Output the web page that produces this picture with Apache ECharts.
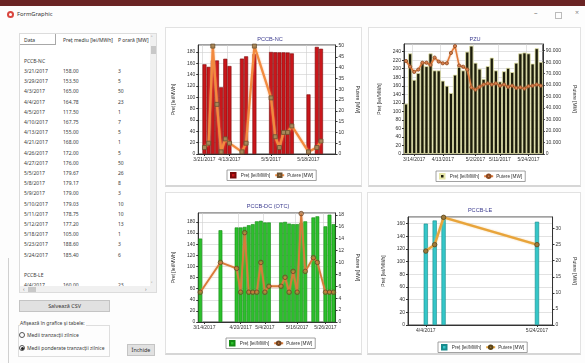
<!DOCTYPE html>
<html><head><meta charset="utf-8">
<script src="https://cdn.jsdelivr.net/npm/echarts@6/dist/echarts.min.js"></script>
<style>
body{margin:0;width:585px;height:363px;overflow:hidden;background:#fdfdfd;font-family:'Noto Sans','DejaVu Sans',sans-serif;position:relative;color:#333}
.a{position:absolute}
.panel{position:absolute;background:#fff;border:1px solid #e2e2e2;border-bottom:2px solid #d6d6d6;box-sizing:border-box}
.ch{position:absolute}
.t{position:absolute;font-size:5px;line-height:10px;white-space:nowrap;color:#3a3a3a}
.btn{position:absolute;background:#e1e1e1;border:1px solid #c4c4c4;box-sizing:border-box;font-size:5.4px;text-align:center;color:#333}
</style></head><body>
<div class="a" style="left:0;top:0;width:585px;height:6px;background:#6a2424"></div>
<div class="a" style="left:7px;top:11px;width:7px;height:7px;border-radius:50%;background:#d9463f"></div>
<div class="a" style="left:9px;top:13px;width:3px;height:3px;border-radius:50%;background:#fff"></div>
<div class="t" style="left:17px;top:9px;font-size:5.8px;color:#333">FormGraphic</div>
<div class="t" style="left:534px;top:8px;font-size:7px;color:#777">–</div>
<div class="a" style="left:555px;top:12px;width:5px;height:5px;border:1px solid #bbb"></div>
<div class="t" style="left:575px;top:8px;font-size:7px;color:#888">×</div>

<div class="panel" style="left:165px;top:27px;width:197px;height:160px"></div>
<div class="panel" style="left:368px;top:27px;width:213px;height:160px"></div>
<div class="panel" style="left:165px;top:192px;width:197px;height:163px"></div>
<div class="panel" style="left:367px;top:192px;width:214px;height:163px"></div>

<div id="tbl" class="a" style="left:19px;top:33px;width:138px;height:260px;border:1px solid #dcdcdc;box-sizing:border-box;background:#fff;overflow:hidden"></div>

<div class="btn" style="left:19px;top:300px;width:91px;height:12px;line-height:10px">Salvează CSV</div>
<div class="a" style="left:18px;top:325px;width:92px;height:32px;border:1px solid #dedede;box-sizing:border-box"></div>
<div class="t" style="left:20px;top:318px;background:#fdfdfd;padding-right:1px">Afișează în grafice și tabele:</div>
<div class="a" style="left:19px;top:332px;width:6px;height:6px;border-radius:50%;border:1px solid #555;box-sizing:border-box;background:#fff"></div>
<div class="t" style="left:27px;top:330px">Medii tranzacții zilnice</div>
<div class="a" style="left:19px;top:345px;width:6px;height:6px;border-radius:50%;border:1px solid #555;box-sizing:border-box;background:#fff"></div>
<div class="a" style="left:20.5px;top:346.5px;width:3px;height:3px;border-radius:50%;background:#222"></div>
<div class="t" style="left:27px;top:343px">Medii ponderate tranzacții zilnice</div>
<div class="btn" style="left:127px;top:344px;width:28px;height:12px;line-height:10px">Închide</div>
<div class="a" style="left:8px;top:258px;width:1px;height:105px;background:#d0d0d0"></div>

<div id="c1" class="ch" style="left:163px;top:27px;width:205px;height:158px"></div>
<div id="c2" class="ch" style="left:368px;top:27px;width:217px;height:158px"></div>
<div id="c3" class="ch" style="left:163px;top:192px;width:205px;height:166px"></div>
<div id="c4" class="ch" style="left:368px;top:192px;width:217px;height:166px"></div>

<script>
// ---------------- DATA ----------------
const priceName = 'Preț [lei/MWh]';
const powerName = 'Putere [MW]';
const tableHeader = ['Data', 'Preț mediu [lei/MWh]', 'P orară [MW]'];

// PCCB-NC ('' = empty slot on the category axis)
const ncDates = ['', '3/21/2017','3/29/2017','4/3/2017','4/4/2017','4/5/2017','4/10/2017','4/13/2017','','',
  '4/21/2017','4/26/2017','','4/27/2017','','','','5/5/2017','5/8/2017','5/9/2017','5/10/2017','5/11/2017','5/12/2017',
  '','','','5/18/2017','','5/23/2017','5/24/2017','','',''];
const ncPrice = [null,158,153.5,165,164.78,117.5,167.75,155,null,null,168,172,null,176,null,null,null,
  179.67,179.17,179,179.03,178.75,177.2,null,null,null,105,null,188.6,185.4,null,null,null];
const ncPower = [null,3,5,50,23,1,7,5,null,null,1,5,null,50,null,null,null,
  26,8,3,10,10,13,null,null,null,1,null,3,6,null,null,null];
const ncTicks = ['3/21/2017','4/13/2017','5/5/2017','5/18/2017'];

// PZU
const pzuDates = ['','','3/14/2017','','','','','','','4/13/2017','','','','','','','','5/2/2017','','','','','','5/11/2017',
  '','','','','','','5/24/2017','','',''];
const pzuPrice = [118,236,174,190,214,206,236,196,196,172,160,143,186,204,196,240,254,214,200,176,206,226,196,170,194,202,192,214,236,238,236,212,248,216];
const pzuPower = [81000,76000,71500,73500,79500,79500,77500,84000,80500,79000,79000,88000,94000,77000,76000,73500,
  58000,56000,58500,60500,61500,60500,61500,59500,60500,58500,59500,57500,58000,57000,59000,59500,60500,59500];
const pzuTicks = ['3/14/2017','4/13/2017','5/2/2017','5/11/2017','5/24/2017'];

// PCCB-DC (OTC)
const dcDates = ['','3/14/2017','','','','','','','','','4/20/2017','','','','','','5/4/2017','','','','','','','',
  '5/16/2017','','','','','','','5/26/2017','',''];
const dcPrice = [150,null,null,null,null,165,null,null,null,170,170,171,174,176,181,182,179,179,null,null,
  179,180,177,176,176,178,181,null,188,190,null,172,193,176];
const dcPower = [5,null,null,null,null,10,null,null,null,9,5,15,5,5,5,10,5,6,null,null,
  6,7.5,5,8.5,5,18.2,8.5,null,10.8,10,null,5,5,5];
const dcTicks = ['3/14/2017','4/20/2017','5/4/2017','5/16/2017','5/26/2017'];

// PCCB-LE (dates on a continuous axis)
const leDates = ['2017-04-04','2017-04-08','2017-04-12','2017-05-24'];
const lePrice = [160,165,170,163];
const lePower = [23,25,33.5,25];
const leTicks = ['2017-04-04','2017-05-24'];
const leRange = ['2017-03-27','2017-05-31'];

// ---------------- TABLE ----------------
function isoToUs(s){const p=s.split('-');return (+p[1])+'/'+(+p[2])+'/'+p[0];}
(function(){
  const tbl=document.getElementById('tbl');
  let h='';
  const cx=[4,43,98];
  h+='<div class="a" style="left:-1px;top:-1px;width:37px;height:12px;border:1px solid #a8a8a8;box-sizing:border-box"></div>';
  tableHeader.forEach((s,i)=>{h+='<div class="t" style="left:'+cx[i]+'px;top:1px;color:#333">'+s+'</div>';});
  const rows=[[''],['PCCB-NC']];
  ncDates.forEach((d,i)=>{if(d!=='') rows.push([d,ncPrice[i].toFixed(2),String(ncPower[i])]);});
  rows.push(['']); rows.push(['PCCB-LE']);
  rows.push([isoToUs(leDates[0]),lePrice[0].toFixed(2),String(lePower[0])]);
  rows.forEach((r,k)=>{
    const y=11.5+10.2*k;
    r.forEach((s,i)=>{ if(s!=='') h+='<div class="t" style="left:'+cx[i]+'px;top:'+y+'px">'+s+'</div>';});
  });
  h+='<div class="a" style="left:130px;top:0;width:7px;height:258px;background:#f0f0f0"></div>';
  h+='<div class="a" style="left:131px;top:12px;width:5px;height:8px;background:#c8c8c8"></div>';
  h+='<div class="t" style="left:131px;top:-1px;font-size:5px;color:#666">˄</div>';
  h+='<div class="t" style="left:131px;top:245px;font-size:5px;color:#666">˅</div>';
  h+='<div class="a" style="left:0;top:252px;width:130px;height:7px;background:#f0f0f0"></div>';
  h+='<div class="a" style="left:8px;top:253px;width:8px;height:5px;background:#c8c8c8"></div>';
  h+='<div class="t" style="left:3px;top:250px;font-size:5px;color:#666">‹</div>';
  h+='<div class="t" style="left:125px;top:250px;font-size:5px;color:#666">›</div>';
  tbl.innerHTML=h;
})();

// ---------------- CHARTS ----------------
const FONT='Liberation Sans, DejaVu Sans, sans-serif';
const lblStyle={fontSize:5,color:'#333',fontFamily:FONT};
function usFmt(v){const d=new Date(v);return (d.getMonth()+1)+'/'+d.getDate()+'/'+d.getFullYear();}
function isoTs(s){const p=s.split('-');return new Date(+p[0],+p[1]-1,+p[2]).getTime();}

function build(id,o){
  const c=echarts.init(document.getElementById(id),null,{renderer:'canvas'});
  let xAxis;
  if(o.dateAxis){
    const tv=o.ticks.map(isoTs);
    xAxis={type:'value',min:isoTs(o.range[0]),max:isoTs(o.range[1]),
      axisLine:{lineStyle:{color:'#333',width:1}},
      axisTick:{show:true,length:2,customValues:tv,lineStyle:{color:'#333'}},
      axisLabel:Object.assign({margin:3,customValues:tv,formatter:usFmt,hideOverlap:false,showMinLabel:true,showMaxLabel:true},lblStyle),
      splitLine:{show:false}};
  } else {
    const f=(i,v)=>o.ticks.indexOf(v)>=0;
    xAxis={type:'category',data:o.cats,boundaryGap:true,
      axisLine:{lineStyle:{color:'#333',width:1}},
      axisTick:{show:true,length:2,interval:f,alignWithLabel:true,lineStyle:{color:'#333'}},
      axisLabel:Object.assign({margin:3,interval:f},lblStyle),
      splitLine:{show:true,interval:f,lineStyle:{color:'#cfcfcf',width:0.6}}};
  }
  const seriesBar={type:'bar',name:priceName,data:o.bars,barCategoryGap:o.gap||'6%',
    itemStyle:{color:o.barColor,borderColor:o.barBorder,borderWidth:o.barBW||0.6}};
  if(o.dateAxis){seriesBar.barWidth=4.2;}
  const seriesLine={type:'line',name:powerName,yAxisIndex:1,data:o.line,connectNulls:true,
    symbol:o.sym,symbolSize:o.symSize,showAllSymbol:true,
    lineStyle:{color:o.lineColor,width:o.lineW,shadowColor:o.glow,shadowBlur:o.glow?2:0},
    itemStyle:{color:o.symColor,borderColor:o.symBorder,borderWidth:0.8}};
  c.setOption({
    animation:false,
    title:{text:o.title,left:o.titleX,top:o.titleY,textAlign:'center',padding:0,
      textStyle:{fontSize:5.6,fontWeight:'normal',color:'#3b3b8f',fontFamily:FONT}},
    grid:Object.assign({show:true,borderColor:'#444',borderWidth:1,backgroundColor:'#fff'},o.grid),
    legend:{left:o.legX,top:o.legY,orient:'horizontal',itemWidth:9,itemHeight:4.5,itemGap:4,
      padding:[2,3,2,3],borderColor:'#8a8a8a',borderWidth:0.8,backgroundColor:'#fff',
      textStyle:{fontSize:4.7,color:'#333',fontFamily:FONT,padding:[0,0,0,-2]},
      data:[{name:priceName,icon:'path://M0,0L1,0L1,1L0,1Z'},{name:powerName}]},
    xAxis:xAxis,
    yAxis:[
      {type:'value',min:0,max:o.lmax,interval:o.lint,name:priceName,nameLocation:'middle',nameGap:o.lgap,
        nameTextStyle:{fontSize:5,color:'#333',fontFamily:FONT},
        axisLine:{show:true,lineStyle:{color:'#333'}},axisTick:{show:true,length:2,lineStyle:{color:'#333'}},
        axisLabel:Object.assign({margin:3,showMaxLabel:false},lblStyle),
        splitLine:{show:true,lineStyle:{color:'#cfcfcf',width:0.6}}},
      {type:'value',min:0,max:o.rmax,interval:o.rint,name:powerName,nameLocation:'middle',nameGap:o.rgap,nameRotate:-90,
        nameTextStyle:{fontSize:5,color:'#333',fontFamily:FONT},
        axisLine:{show:true,lineStyle:{color:'#333'}},axisTick:{show:true,length:2,lineStyle:{color:'#333'}},
        axisLabel:Object.assign({margin:3,showMaxLabel:false,formatter:o.rfmt},lblStyle),
        splitLine:{show:false}}
    ],
    series:[seriesBar,seriesLine]
  });
}

build('c1',{title:'PCCB-NC',titleX:107,titleY:9,grid:{left:33,top:18,width:149,height:109},
  cats:ncDates,ticks:ncTicks,bars:ncPrice,line:ncPower,
  lmax:192,lint:20,rmax:50.5,rint:5,lgap:21,rgap:13,
  barColor:'#c9161b',barBorder:'#7a0a0a',gap:'4%',
  lineColor:'#f28a3e',lineW:2.2,glow:'rgba(250,170,110,0.8)',sym:'rect',symSize:4,symColor:'#a88658',symBorder:'#6a5030',
  legX:64,legY:143});

build('c2',{title:'PZU',titleX:107,titleY:9,grid:{left:36,top:17,width:141,height:110},
  cats:pzuDates,ticks:pzuTicks,bars:pzuPrice,line:pzuPower,
  lmax:258,lint:20,rmax:95800,rint:10000,lgap:20,rgap:24,
  rfmt:v=>v===0?'0':(v/1000).toFixed(3),
  barColor:'#1c1c0c',barBorder:'#e6e6a8',barBW:0.8,gap:'0%',
  lineColor:'#e07a3a',lineW:1.6,glow:'rgba(240,160,110,0.7)',sym:'circle',symSize:3.2,symColor:'#d98050',symBorder:'#8b4a22',
  legX:68,legY:144});

build('c3',{title:'PCCB-DC (OTC)',titleX:105,titleY:11,grid:{left:30,top:21,width:149,height:109},
  cats:dcDates,ticks:dcTicks,bars:dcPrice,line:dcPower,
  lmax:196,lint:20,rmax:18.3,rint:2,lgap:20,rgap:13,
  barColor:'#2cbf2c',barBorder:'#138a13',gap:'6%',
  lineColor:'#d97a3a',lineW:1.8,glow:'rgba(230,150,90,0.6)',sym:'circle',symSize:4.5,symColor:'rgba(190,120,60,0.5)',symBorder:'#6e4422',
  legX:63,legY:146});

build('c4',{title:'PCCB-LE',titleX:112,titleY:15,grid:{left:40,top:25,width:145,height:108},
  dateAxis:true,range:leRange,ticks:leTicks,
  bars:leDates.map((d,i)=>[isoTs(d),lePrice[i]]),line:leDates.map((d,i)=>[isoTs(d),lePower[i]]),
  lmax:170.5,lint:20,rmax:33.6,rint:5,lgap:22,rgap:16,
  barColor:'#35c6c8',barBorder:'#178a8c',
  lineColor:'#e8a43a',lineW:2.4,glow:'rgba(240,190,110,0.7)',sym:'circle',symSize:4.5,symColor:'#9c7a3c',symBorder:'#5a4418',
  legX:70,legY:150});
</script>
</body></html>
